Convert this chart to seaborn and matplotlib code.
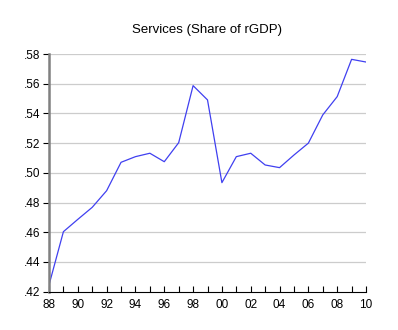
import matplotlib
matplotlib.use("Agg")
import matplotlib.pyplot as plt
import seaborn as sns
import numpy as np
import pandas as pd

years = list(range(1988, 2011))
share = [0.4245, 0.4604, 0.4687, 0.4768, 0.4880, 0.5071, 0.5109, 0.5132, 0.5075,
         0.5203, 0.5587, 0.5491, 0.4934, 0.5109, 0.5132, 0.5053, 0.5035, 0.5120,
         0.5200, 0.5390, 0.5513, 0.5764, 0.5746]
yticks = [0.42, 0.44, 0.46, 0.48, 0.50, 0.52, 0.54, 0.56, 0.58]
ytick_labels = [".42", ".44", ".46", ".48", ".50", ".52", ".54", ".56", ".58"]
xticks_major = list(range(1988, 2011, 2))
xtick_labels = [f"{y % 100:02d}" for y in xticks_major]

df = pd.DataFrame({"year": years, "share": share})

sns.set_style("white")
plt.rcParams['font.family'] = ['Liberation Sans', 'DejaVu Sans']

fig = plt.figure(figsize=(3.98, 3.30), dpi=100)
ax = fig.add_axes([49/398, 1 - 291.7/330, (366 - 49)/398, (291.7 - 54)/330])

sns.lineplot(data=df, x="year", y="share", ax=ax, color="#4040f0", linewidth=0.9)

ax.set_xlim(1988, 2010)
ax.set_ylim(0.42, 0.58)
ax.set_yticks(yticks)
ax.set_yticklabels(ytick_labels)
ax.set_xticks(xticks_major)
ax.set_xticklabels(xtick_labels)
ax.set_xticks(years, minor=True)
ax.set_xlabel("")
ax.set_ylabel("")

for y in yticks[1:]:
    ax.axhline(y, color="#cccccc", linewidth=0.9, zorder=0)

for s in ["top", "right"]:
    ax.spines[s].set_visible(False)
ax.spines["left"].set_color("#808080")
ax.spines["left"].set_linewidth(1.8)
ax.spines["bottom"].set_color("#000000")
ax.spines["bottom"].set_linewidth(0.8)

ax.tick_params(axis="x", which="both", direction="in", length=4, width=0.8,
               colors="black", labelsize=8.5, pad=5, bottom=True)
ax.tick_params(axis="y", direction="out", length=4, width=0.8, colors="black",
               labelsize=8.5, pad=2, left=True)

fig.text(207.5/398, 1 - 30/330, "Services (Share of rGDP)", ha="center", va="center",
         fontsize=9.5, color="black")

fig.savefig("out.png", dpi=100)
